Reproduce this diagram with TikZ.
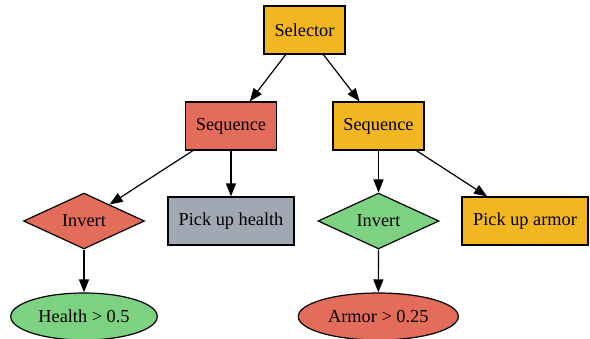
\documentclass[tikz,border=0pt]{standalone}
\usepackage{fontspec}
\setmainfont{Liberation Serif}
\usetikzlibrary{shapes.geometric,arrows.meta}
\definecolor{cOrange}{RGB}{242,182,32}
\definecolor{cRed}{RGB}{227,108,90}
\definecolor{cGray}{RGB}{161,168,180}
\definecolor{cGreen}{RGB}{125,210,130}
\tikzset{
  base/.style={draw=black, line width=1.2pt, inner sep=0pt, font=\fontsize{18.3}{20}\selectfont, text=black},
  boxnode/.style={base, rectangle, minimum height=48pt},
  dianode/.style={base, diamond, minimum width=121pt, minimum height=48pt},
  ellnode/.style={base, ellipse, minimum height=47pt},
  conn/.style={draw=black, line width=1.2pt, -{Triangle[length=13pt,width=10pt]}},
}
\begin{document}
\begin{tikzpicture}[x=1pt,y=-1pt]
\useasboundingbox (0,0) rectangle (590,338);
\node[boxnode, fill=cOrange, minimum width=81pt] (sel) at (304.5,30) {Selector};
\node[boxnode, fill=cRed, minimum width=91pt] (seqL) at (231,126) {Sequence};
\node[boxnode, fill=cOrange, minimum width=91pt] (seqR) at (378.5,126) {Sequence};
\node[dianode, fill=cRed] (invL) at (84,221) {Invert};
\node[boxnode, fill=cGray, minimum width=126pt] (pickH) at (231,221) {Pick up health};
\node[dianode, fill=cGreen] (invR) at (378.5,221) {Invert};
\node[boxnode, fill=cOrange, minimum width=126pt] (pickA) at (525,221) {Pick up armor};
\node[ellnode, fill=cGreen, minimum width=146.5pt] (health) at (84,316.5) {Health > 0.5};
\node[ellnode, fill=cRed, minimum width=160pt] (armor) at (378.3,316.5) {Armor > 0.25};
\draw[conn] (sel) -- (seqL);
\draw[conn] (sel) -- (seqR);
\draw[conn] (seqL) -- (invL);
\draw[conn] (seqL) -- (pickH);
\draw[conn] (seqR) -- (invR);
\draw[conn] (seqR) -- (pickA);
\draw[conn] (invL) -- (health);
\draw[conn] (invR) -- (armor);
\end{tikzpicture}
\end{document}
